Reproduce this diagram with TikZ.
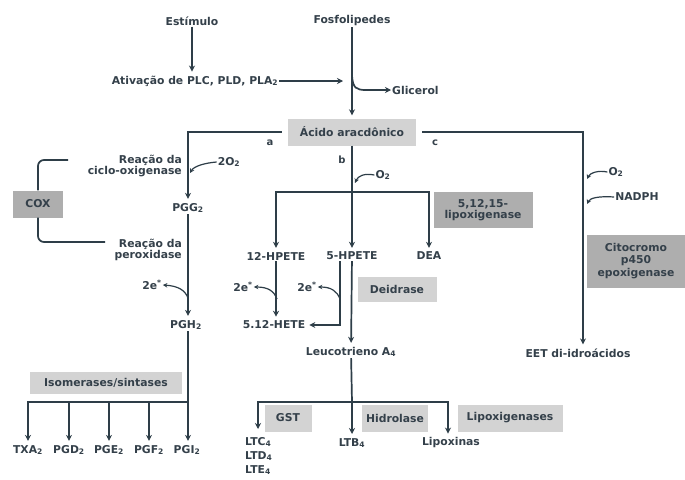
\documentclass[tikz,border=0pt]{standalone}
\usepackage{fontspec}
\setmainfont{DejaVu Sans}
\usetikzlibrary{arrows.meta}
\definecolor{ln}{HTML}{2E3E48}
\definecolor{tx}{HTML}{34404A}
\definecolor{bxA}{HTML}{D3D3D3}
\definecolor{bxB}{HTML}{AEAEAE}
\begin{document}
\begin{tikzpicture}[x=1pt,y=-1pt,
  font=\fontsize{10.8}{11.5}\selectfont\bfseries,
  every node/.style={text=tx, inner sep=1pt},
  ln/.style={draw=ln, line width=1.7pt},
  arr/.style={ln, -{Stealth[length=6pt,width=6pt]}, shorten >=3pt},
  sarr/.style={draw=ln, line width=1.2pt, -{Stealth[length=4.5pt,width=4.5pt]}},
  lbox/.style={fill=bxA, inner sep=2pt},
  dbox/.style={fill=bxB, inner sep=2pt},
  lab/.style={font=\fontsize{10}{10}\selectfont\bfseries}]
\useasboundingbox[fill=white] (0,0) rectangle (685,479);

% top
\node (est) at (192,21) {Estímulo};
\node (fos) at (352,21) {Fosfolipedes};
\node (ativ) at (195,81) {Ativação de PLC, PLD, PLA\textsubscript{2}};
\coordinate (j1) at (352,81);
\node[anchor=west] (gli) at (391,90) {Glicerol};
\draw[arr] (est) -- (est |- ativ.north);
\draw[arr, shorten >=9pt] (ativ) -- (j1);
\node[lbox, minimum width=128, minimum height=27] (acido) at (352,132) {Ácido aracdônico};
\draw[arr] (fos) -- (acido);
\coordinate (g0) at (352,76);
\draw[ln, -{Stealth[length=6pt,width=6pt]}] (g0) .. controls (353,88) and (356,90) .. (366,90) -- (gli.west);

% branch a
\node (pgg) at (188,208) {PGG\textsubscript{2}};
\draw[arr] ([xshift=-6pt]acido.west) -| (pgg);
\node[lab] (la) at (270,143) {a};
\node[anchor=east, align=right] (rc) at (183,166) {Reação da\\ciclo-oxigenase};
\node (o2a) at (229,162) {2O\textsubscript{2}};
\draw[sarr] (o2a.west) .. controls (205,163) and (194,166) .. (190,173);
\node[dbox, minimum width=50, minimum height=27] (cox) at (38,204) {COX};
\coordinate (bt) at (68,160);
\coordinate (bb) at (105,242);
\draw[ln, rounded corners=6pt] (bt) -| (cox.north);
\draw[ln, rounded corners=6pt] (cox.south) |- (bb);
\node[anchor=east, align=right] (rp) at (183,250) {Reação da\\peroxidase};
\node (pgh) at (186,325) {PGH\textsubscript{2}};
\draw[arr] (pgg.south) -- (pgg.south |- pgh.north);
\node (e1) at (152,285) {2e\textsuperscript{*}};
\draw[sarr] (188,298) .. controls (185,290) and (178,286) .. (e1.east);

% prostanoids
\node[lbox, minimum width=152, minimum height=22] (iso) at (106,383) {Isomerases/sintases};
\coordinate (pj) at (188,402);
\node (txa) at (28,450) {TXA\textsubscript{2}};
\node (pgd) at (69,450) {PGD\textsubscript{2}};
\node (pge) at (109,450) {PGE\textsubscript{2}};
\node (pgf) at (149,450) {PGF\textsubscript{2}};
\node (pgi) at (187,450) {PGI\textsubscript{2}};
\draw[arr] (pgh.south -| pgg.south) -- (pgg.south |- pgi.north);
\draw[arr] (pj) -| (txa);
\draw[arr] (pj) -| (pgd);
\draw[arr] (pj) -| (pge);
\draw[arr] (pj) -| (pgf);

% branch b
\node[lab] (lb) at (342,160) {b};
\coordinate (bj) at (352,192);
\draw[ln] (acido) -- (bj);
\node (o2b) at (383,175) {O\textsubscript{2}};
\draw[sarr] (o2b.west) .. controls (364,173) and (358,176) .. (355,183);
\node (h12) at (276,256) {12-HPETE};
\node (h5) at (352,256) {5-HPETE};
\node (dea) at (429,256) {DEA};
\draw[arr] (bj) -| (h12);
\draw[arr] (bj) -- (h5);
\draw[arr] (bj) -| (dea);
\node[dbox, minimum width=99, minimum height=36, align=center] (lox) at (483,210) {5,12,15-\\lipoxigenase};
\node (hete) at (274,325) {5.12-HETE};
\draw[arr] (h12.south) -- (h12.south |- hete.north);
\node (e2) at (243,287) {2e\textsuperscript{*}};
\draw[sarr] (277,299) .. controls (274,291) and (268,287) .. (e2.east);
\draw[arr] ([xshift=-12pt]h5.south) |- (hete);
\node (e3) at (307,287) {2e\textsuperscript{*}};
\draw[sarr] (340,299) .. controls (337,291) and (331,287) .. (e3.east);
\node[lbox, minimum width=79, minimum height=25] (dei) at (397,289) {Deidrase};
\node (leu) at (351,352) {Leucotrieno A\textsubscript{4}};
\draw[arr] (h5) -- (leu);

% leukotrienes
\coordinate (lj) at (352,402);
\draw[ln] (leu) -- (lj);
\node[align=left, anchor=north west, font=\fontsize{10.8}{14}\selectfont\bfseries] (ltc) at (244,436) {LTC\textsubscript{4}\\LTD\textsubscript{4}\\LTE\textsubscript{4}};
\coordinate (ltcT) at (258,432);
\node (ltb) at (352,443) {LTB\textsubscript{4}};
\node (lipx) at (451,443) {Lipoxinas};
\draw[arr] (lj) -| (ltcT);
\draw[arr] (lj) -- (ltb);
\draw[arr] (lj) -| ([xshift=-3pt]lipx.north);
\node[lbox, minimum width=47, minimum height=27] (gst) at (288,418) {GST};
\node[lbox, minimum width=66, minimum height=27] (hid) at (395,418) {Hidrolase};
\node[lbox, minimum width=105, minimum height=27] (lxg) at (510,418) {Lipoxigenases};

% branch c
\node[lab] (lc) at (435,143) {c};
\node (eet) at (578,353) {EET di-idroácidos};
\draw[arr] ([xshift=6pt]acido.east) -| ([xshift=5pt]eet.north);
\node (o2c) at (616,172) {O\textsubscript{2}};
\draw[sarr] (o2c.west) .. controls (598,170) and (590,173) .. (587,179);
\node (nad) at (637,197) {NADPH};
\draw[sarr] (nad.west) .. controls (598,196) and (590,198) .. (587,204);
\node[dbox, minimum width=98, minimum height=53, align=center, font=\fontsize{10.8}{12.5}\selectfont\bfseries] (cyp) at (636,261) {Citocromo\\p450\\epoxigenase};
\end{tikzpicture}
\end{document}
